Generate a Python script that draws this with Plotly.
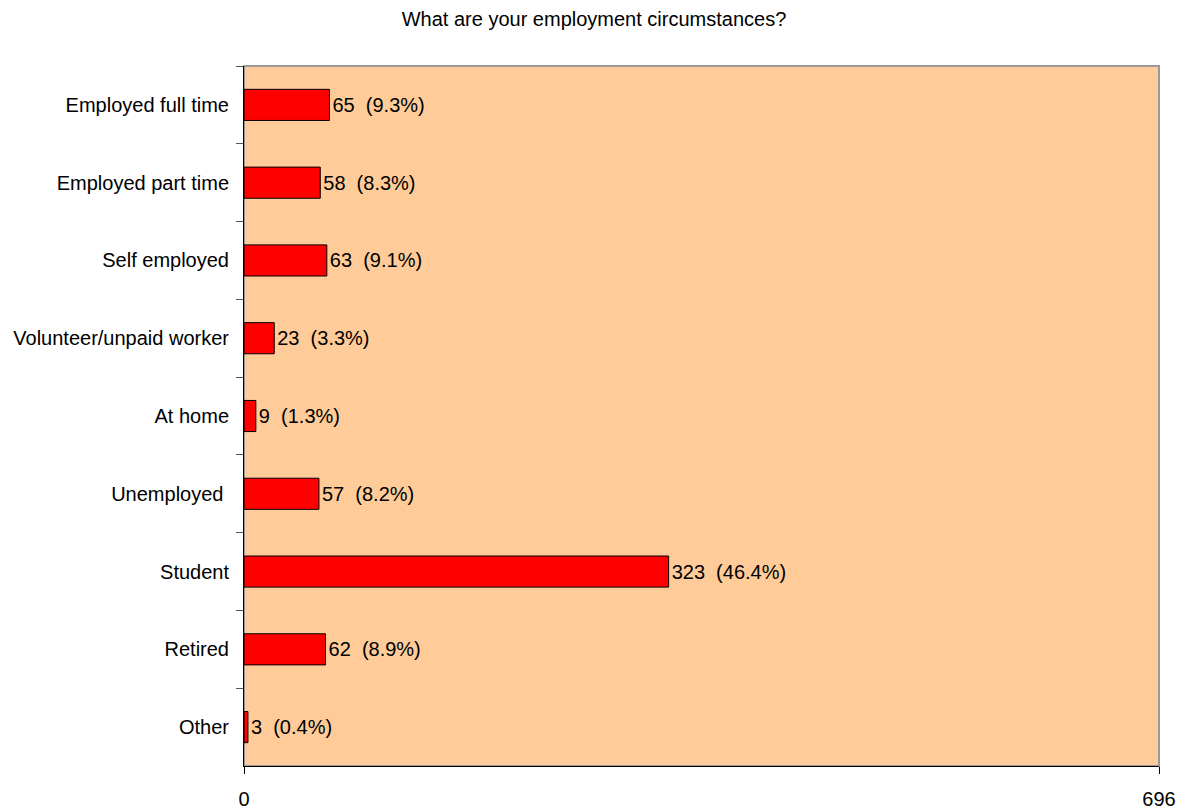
import plotly.graph_objects as go

# Survey responses: employment circumstances
categories = [
    "Employed full time",
    "Employed part time",
    "Self employed",
    "Volunteer/unpaid worker",
    "At home",
    "Unemployed\u00a0",
    "Student",
    "Retired",
    "Other",
]
counts = [65, 58, 63, 23, 9, 57, 323, 62, 3]
respondents = 696
x_tick_values = [0, 696]

labels = [f"{c}\u00a0\u00a0({c / respondents * 100:.1f}%)" for c in counts]

FONT = "Liberation Sans, Arial, sans-serif"

fig = go.Figure(
    go.Bar(
        x=counts,
        y=categories,
        orientation="h",
        width=0.4,
        marker=dict(color="#FF0000", line=dict(color="#000000", width=1)),
        text=labels,
        textposition="outside",
        textfont=dict(family=FONT, size=20, color="#000000"),
        cliponaxis=False,
        hoverinfo="skip",
    )
)

fig.update_layout(
    width=1188,
    height=811,
    margin=dict(l=244, r=29, t=66, b=45, autoexpand=False),
    paper_bgcolor="#FFFFFF",
    plot_bgcolor="#FFCC99",
    font=dict(family=FONT, size=20, color="#000000"),
    title=dict(
        text="What are your employment circumstances?",
        x=0.5,
        xanchor="center",
        y=1 - 19 / 811,
        yanchor="middle",
        font=dict(family=FONT, size=20, color="#000000"),
    ),
    showlegend=False,
    bargap=0.6,
    shapes=[
        # grey frame on the top and right edges of the plot area
        dict(type="rect", xref="paper", yref="paper", x0=0, x1=1, y0=0, y1=1,
             line=dict(color="#999999", width=2), fillcolor="rgba(0,0,0,0)",
             layer="below"),
    ],
)

fig.update_xaxes(
    range=[0, respondents],
    tickvals=x_tick_values,
    ticktext=[str(v) for v in x_tick_values],
    ticks="outside",
    ticklen=7,
    tickcolor="#000000",
    showline=True,
    linecolor="#000000",
    linewidth=1,
    showgrid=False,
    zeroline=False,
    automargin=False,
    ticklabelstandoff=8,
    tickfont=dict(family=FONT, size=20, color="#000000"),
)

fig.update_yaxes(
    categoryorder="array",
    categoryarray=categories,
    autorange="reversed",
    tickson="boundaries",
    ticks="outside",
    ticklen=7,
    tickcolor="#555555",
    showline=True,
    linecolor="#000000",
    linewidth=1,
    showgrid=False,
    zeroline=False,
    automargin=False,
    ticklabelstandoff=10,
    tickfont=dict(family=FONT, size=20, color="#000000"),
)

fig.write_html("out.html")
